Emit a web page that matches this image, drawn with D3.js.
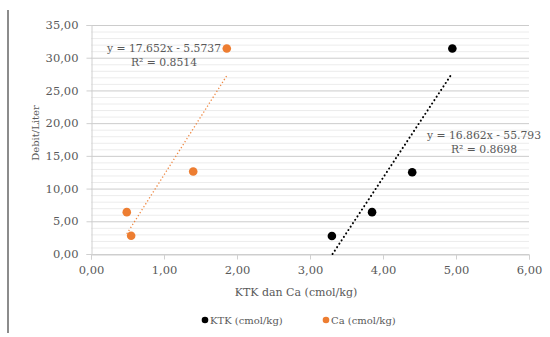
<!DOCTYPE html>
<html>
<head>
<meta charset="utf-8">
<script src="https://cdn.jsdelivr.net/npm/d3@7"></script>
<style>
  html, body { margin: 0; padding: 0; background: #fff; }
  svg { display: block; }
  text { font-family: "DejaVu Serif", "Liberation Serif", serif; fill: #595959; }
</style>
</head>
<body>
<svg id="chart" width="550" height="337"></svg>
<script>
// Series: KTK and Ca (cmol/kg) against discharge
const ktkX = [3.30, 3.85, 4.40, 4.95];
const ktkY = [2.75, 6.40, 12.50, 31.40];
const caX = [0.49, 0.55, 1.40, 1.86];
const caY = [6.40, 2.80, 12.60, 31.40];

// Linear trendlines (slope, intercept) and their labels
const ktkFit = [16.862, -55.793];
const caFit = [17.652, -5.5737];
const ktkFitLabel = ["y = 16.862x - 55.793", "R\u00b2 = 0.8698"];
const caFitLabel = ["y = 17.652x - 5.5737", "R\u00b2 = 0.8514"];

const xTicks = [0, 1, 2, 3, 4, 5, 6];
const yTicks = [0, 5, 10, 15, 20, 25, 30, 35];
const yMinor = d3.range(0, 36, 1);

const xTitle = "KTK dan Ca (cmol/kg)";
const yTitle = "Debit/Liter";
const legendNames = ["KTK (cmol/kg)", "Ca (cmol/kg)"];
const colors = ["#000000", "#ED7D31"];

const svg = d3.select("#chart");
const fmt = v => d3.format(".2f")(v).replace(".", ",");

const x = d3.scaleLinear().domain([0, 6]).range([91, 529]);
const y = d3.scaleLinear().domain([0, 35]).range([254, 25]);

// page border on the left
svg.append("line").attr("x1", 8).attr("x2", 8).attr("y1", 10).attr("y2", 333)
  .attr("stroke", "#8c8c8c").attr("stroke-width", 2);

// minor grid
svg.append("g").selectAll("line").data(yMinor.filter(v => v % 5 !== 0)).join("line")
  .attr("x1", x(0)).attr("x2", x(6)).attr("y1", d => y(d) + 0.5).attr("y2", d => y(d) + 0.5)
  .attr("stroke", "#ececec").attr("stroke-width", 1);

// major grid
svg.append("g").selectAll("line").data(yTicks).join("line")
  .attr("x1", x(0)).attr("x2", x(6)).attr("y1", d => y(d) + 0.5).attr("y2", d => y(d) + 0.5)
  .attr("stroke", "#cccccc").attr("stroke-width", 1);

// axes
const yAxis = d3.axisLeft(y).tickValues(yTicks).tickFormat(fmt).tickSize(5).tickPadding(8);
const gy = svg.append("g").attr("transform", `translate(${x(0) + 0.5},0)`).call(yAxis);
gy.select(".domain").attr("stroke", "#d0d0d0");
gy.selectAll(".tick line").attr("stroke", "#d0d0d0");
gy.selectAll(".tick text").attr("font-size", 11.5).attr("fill", "#595959");

const xAxis = d3.axisBottom(x).tickValues(xTicks).tickFormat(fmt).tickSize(5).tickPadding(6);
const gx = svg.append("g").attr("transform", `translate(0,${y(0) + 0.5})`).call(xAxis);
gx.select(".domain").attr("stroke", "#d0d0d0");
gx.selectAll(".tick line").attr("stroke", "#d0d0d0");
gx.selectAll(".tick text").attr("font-size", 11.5).attr("fill", "#595959");

// axis titles
svg.append("text").attr("x", 296).attr("y", 296).attr("text-anchor", "middle")
  .attr("font-size", 11).text(xTitle);
svg.append("text").attr("transform", "translate(39,133) rotate(-90)")
  .attr("text-anchor", "middle").attr("font-size", 10).text(yTitle);

// trendlines, clipped at y = 0
function trend(fit, xs) {
  const x0 = Math.max(d3.min(xs), -fit[1] / fit[0]);
  const x1 = d3.max(xs);
  return [[x0, fit[0] * x0 + fit[1]], [x1, fit[0] * x1 + fit[1]]];
}
const line = d3.line().x(d => x(d[0])).y(d => y(d[1]));
svg.append("path").attr("d", line(trend(caFit, caX)))
  .attr("fill", "none").attr("stroke", colors[1]).attr("stroke-width", 1.3)
  .attr("stroke-dasharray", "1.3,2.2").attr("opacity", 0.9);
svg.append("path").attr("d", line(trend(ktkFit, ktkX)))
  .attr("fill", "none").attr("stroke", colors[0]).attr("stroke-width", 2)
  .attr("stroke-linecap", "round").attr("stroke-dasharray", "0.1,4");

// points
function points(xs, ys, c) {
  svg.append("g").selectAll("circle").data(xs.map((v, i) => [v, ys[i]])).join("circle")
    .attr("cx", d => x(d[0])).attr("cy", d => y(d[1])).attr("r", 4.3).attr("fill", c);
}
points(caX, caY, colors[1]);
points(ktkX, ktkY, colors[0]);

// fit labels
const lblSize = 10.8;
svg.append("text").attr("x", 164).attr("y", 52).attr("text-anchor", "middle")
  .attr("font-size", lblSize).attr("fill", "#404040").text(caFitLabel[0]);
svg.append("text").attr("x", 164).attr("y", 66).attr("text-anchor", "middle")
  .attr("font-size", lblSize).attr("fill", "#404040").text(caFitLabel[1]);
svg.append("text").attr("x", 484).attr("y", 139).attr("text-anchor", "middle")
  .attr("font-size", lblSize).attr("fill", "#404040").text(ktkFitLabel[0]);
svg.append("text").attr("x", 484).attr("y", 153).attr("text-anchor", "middle")
  .attr("font-size", lblSize).attr("fill", "#404040").text(ktkFitLabel[1]);

// legend
const legendX = [205, 326];
legendNames.forEach((name, i) => {
  svg.append("circle").attr("cx", legendX[i]).attr("cy", 320).attr("r", 3.3).attr("fill", colors[i]);
  svg.append("text").attr("x", legendX[i] + 5).attr("y", 324).attr("font-size", 10).text(name);
});
</script>
</body>
</html>
